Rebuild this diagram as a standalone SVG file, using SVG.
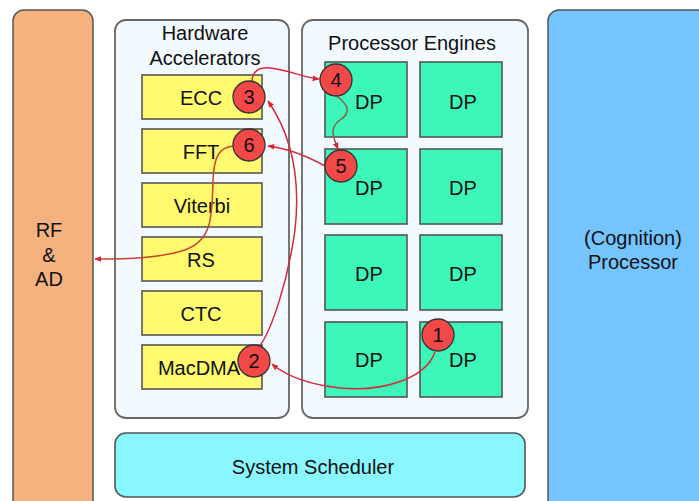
<svg xmlns="http://www.w3.org/2000/svg" width="699" height="501" viewBox="0 0 699 501">
<defs>
<style>
.t{font-family:"Liberation Sans",Arial,sans-serif;fill:#111;text-anchor:middle;font-size:20px}
.big{fill:#F5B27F;stroke:#555;stroke-width:1.5}
.cont{fill:#F2F9FF;stroke:#666;stroke-width:1.8}
.hw{fill:#FFFA6E;stroke:#555;stroke-width:1.6}
.dp{fill:#3CF7B9;stroke:#555;stroke-width:1.6}
.num{fill:#F24848;stroke:#333;stroke-width:1.3}
.c{fill:none;stroke:#D8283A;stroke-width:1.5}
</style>
<marker id="ah" viewBox="0 0 10 10" refX="9" refY="5" markerWidth="7" markerHeight="7" orient="auto" markerUnits="userSpaceOnUse">
<path d="M0,1 L10,5 L0,9 z" fill="#E0202E"/>
</marker>
</defs>
<rect width="699" height="501" fill="#ffffff"/>
<g id="rf">
<rect class="big" x="13" y="10" width="80" height="510" rx="11"/>
<text class="t" x="49" y="237">RF</text>
<text class="t" x="49" y="262">&amp;</text>
<text class="t" x="49" y="286">AD</text>
</g>
<g id="cognition">
<rect x="548" y="10" width="170" height="510" rx="11" fill="#73C4FF" stroke="#555" stroke-width="1.5"/>
<text class="t" x="633" y="245">(Cognition)</text>
<text class="t" x="633" y="269">Processor</text>
</g>
<g id="hwacc">
<rect class="cont" x="115" y="20" width="174" height="398" rx="11"/>
<text class="t" x="205" y="40">Hardware</text>
<text class="t" x="205" y="65">Accelerators</text>
</g>
<g id="pe">
<rect class="cont" x="302" y="20" width="226" height="398" rx="11"/>
<text class="t" x="412" y="50">Processor Engines</text>
</g>
<g id="scheduler">
<rect x="115" y="433" width="410" height="64" rx="11" fill="#8AF6FF" stroke="#555" stroke-width="1.6"/>
<text class="t" x="313" y="474">System Scheduler</text>
</g>
<g id="ecc"><rect class="hw" x="142" y="75" width="120" height="44"/><text class="t" x="201" y="105">ECC</text></g>
<g id="fft"><rect class="hw" x="142" y="129" width="120" height="44"/><text class="t" x="201" y="159">FFT</text></g>
<g id="viterbi"><rect class="hw" x="142" y="183" width="120" height="44"/><text class="t" x="202" y="213">Viterbi</text></g>
<g id="rs"><rect class="hw" x="142" y="237" width="120" height="44"/><text class="t" x="201" y="267">RS</text></g>
<g id="ctc"><rect class="hw" x="142" y="291" width="120" height="44"/><text class="t" x="201" y="321">CTC</text></g>
<g id="macdma"><rect class="hw" x="142" y="345" width="120" height="44"/><text class="t" x="199" y="375">MacDMA</text></g>
<g id="dp11"><rect class="dp" x="325" y="62" width="82" height="75"/><text class="t" x="369" y="109">DP</text></g>
<g id="dp12"><rect class="dp" x="420" y="62" width="82" height="75"/><text class="t" x="463" y="109">DP</text></g>
<g id="dp21"><rect class="dp" x="325" y="149" width="82" height="75"/><text class="t" x="369" y="195">DP</text></g>
<g id="dp22"><rect class="dp" x="420" y="149" width="82" height="75"/><text class="t" x="463" y="195">DP</text></g>
<g id="dp31"><rect class="dp" x="325" y="235" width="82" height="75"/><text class="t" x="369" y="281">DP</text></g>
<g id="dp32"><rect class="dp" x="420" y="235" width="82" height="75"/><text class="t" x="463" y="281">DP</text></g>
<g id="dp41"><rect class="dp" x="325" y="322" width="82" height="75"/><text class="t" x="369" y="367">DP</text></g>
<g id="dp42"><rect class="dp" x="420" y="322" width="82" height="75"/><text class="t" x="463" y="367">DP</text></g>
<g id="connectors">
<path class="c" d="M435,352 C425,380 380,392 340,388 C305,384 285,375 272,364" marker-end="url(#ah)"/>
<path class="c" d="M259,347 C272,330 288,280 295,230 C300,185 295,140 268,101" marker-end="url(#ah)"/>
<path class="c" d="M252,82 C252,72 258,67 270,68 C290,70 300,77 319,79" marker-end="url(#ah)"/>
<path class="c" style="stroke:#8E5A48" d="M337,96 C348,105 352,112 340,120 C330,127 332,135 338,149" marker-end="url(#ah)"/>
<path class="c" d="M325,166 C305,155 285,148 268,146" marker-end="url(#ah)"/>
<path class="c" style="stroke:#C8452E" d="M234,146 C220,147 214,155 213,180 C212,215 213,240 185,250 C160,258 130,259 95,259" marker-end="url(#ah)"/>
</g>
<g id="n1"><circle class="num" cx="438" cy="335" r="16"/><text class="t" x="438" y="342">1</text></g>
<g id="n2"><circle class="num" cx="254" cy="361" r="16"/><text class="t" x="254" y="368">2</text></g>
<g id="n3"><circle class="num" cx="249" cy="97" r="16"/><text class="t" x="249" y="104">3</text></g>
<g id="n4"><circle class="num" cx="336" cy="80" r="16"/><text class="t" x="336" y="87">4</text></g>
<g id="n5"><circle class="num" cx="341" cy="166" r="16"/><text class="t" x="341" y="173">5</text></g>
<g id="n6"><circle class="num" cx="249" cy="145" r="16"/><text class="t" x="249" y="152">6</text></g>
</svg>
